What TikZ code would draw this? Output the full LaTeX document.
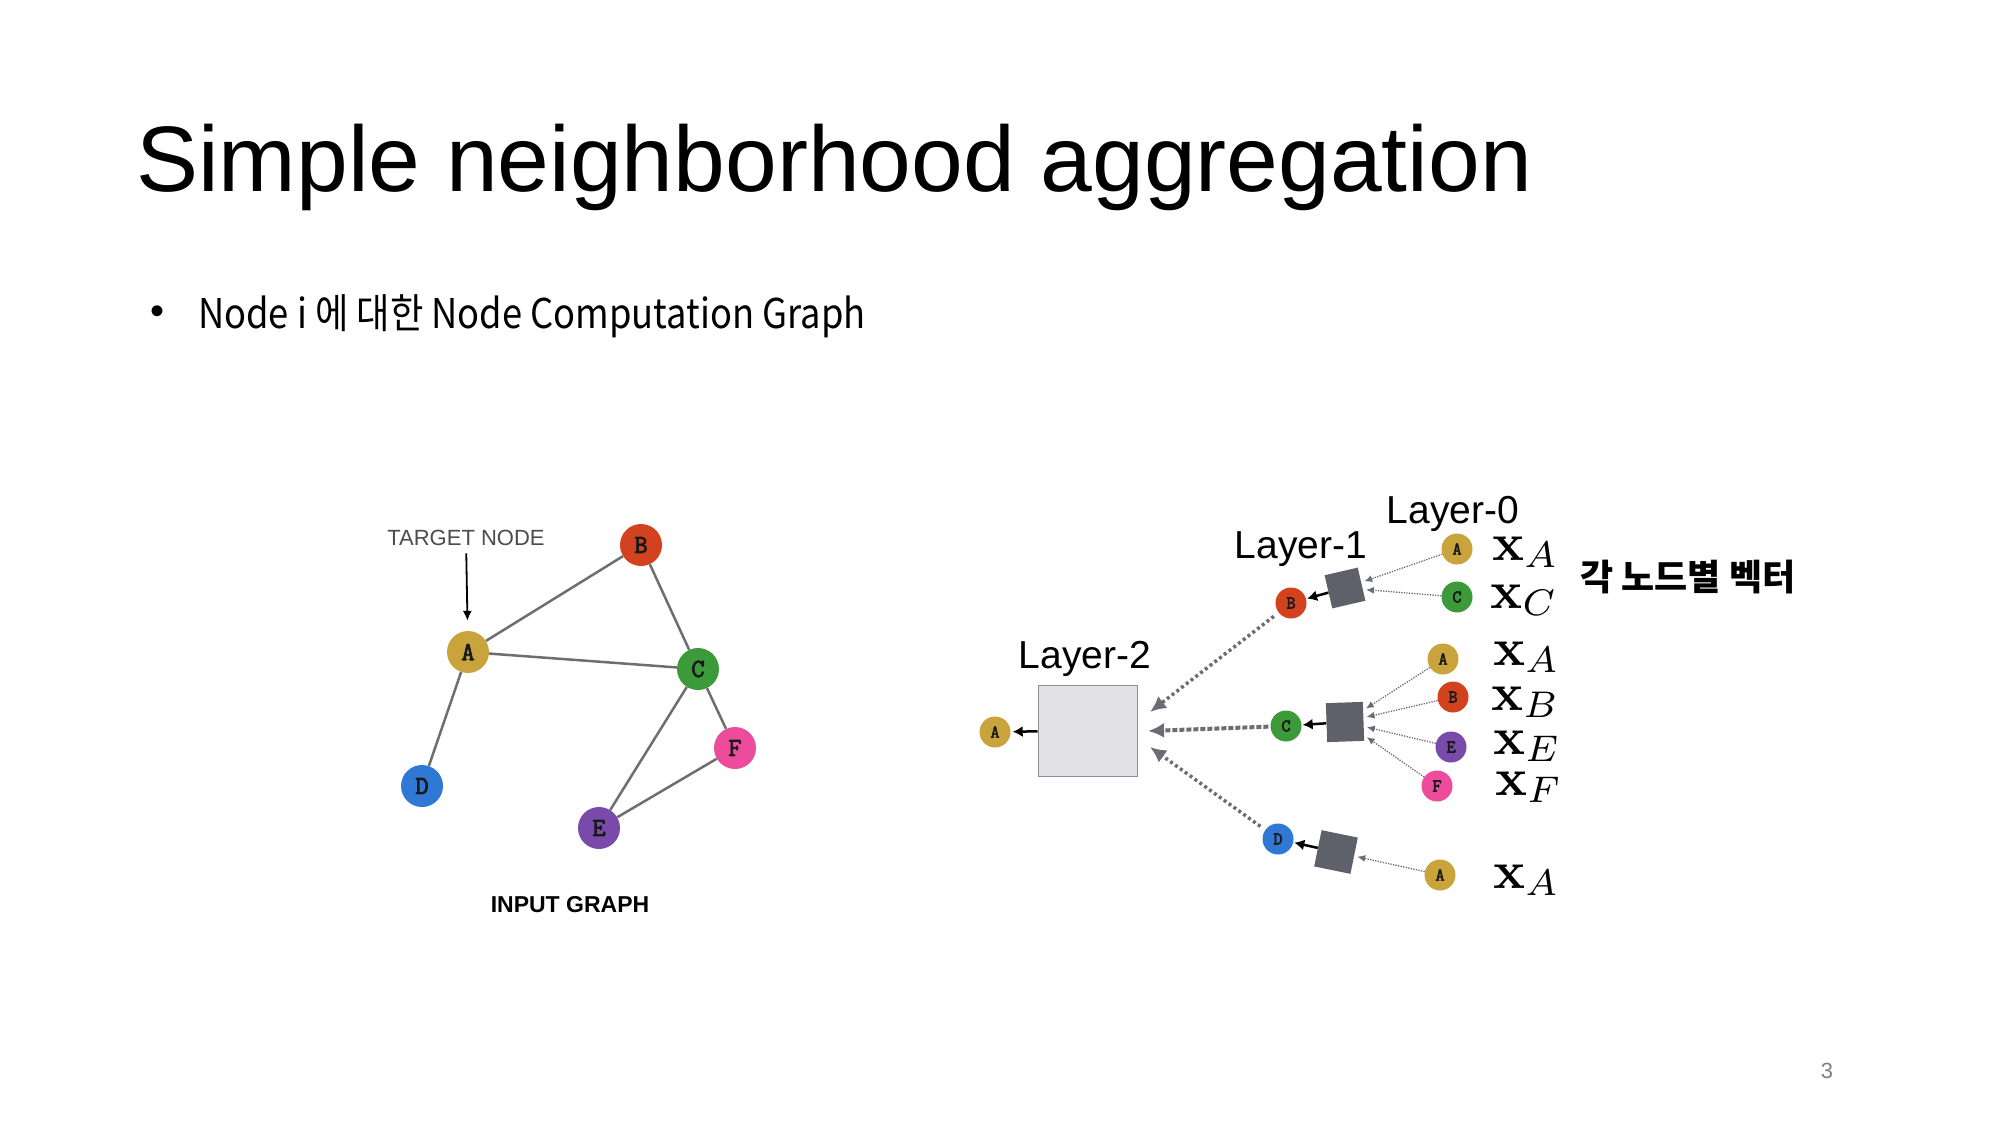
\documentclass[tikz,border=0pt]{standalone}
\usepackage[no-math]{fontspec}
\setmainfont{Liberation Sans}
\newfontfamily\kr{Noto Sans CJK KR}
\newfontfamily\monob{Latin Modern Mono}[FakeBold=3]
\usetikzlibrary{arrows.meta}
\definecolor{cA}{HTML}{C9A43C}
\definecolor{cB}{HTML}{D2421F}
\definecolor{cC}{HTML}{3D9A3A}
\definecolor{cD}{HTML}{2F78D3}
\definecolor{cE}{HTML}{7A4AAB}
\definecolor{cF}{HTML}{EC4C9B}
\definecolor{edgegray}{HTML}{6E6E6E}
\definecolor{dotgray}{HTML}{6A6D73}
\definecolor{boxgray}{HTML}{5E6169}
\definecolor{boxlight}{HTML}{E1E1E6}
\definecolor{boxedge}{HTML}{8E8E8E}
\begin{document}
\begin{tikzpicture}[x=1pt,y=-1pt,
  gnode/.style={circle,inner sep=0pt,minimum size=42pt,font=\monob\fontsize{26}{26}\selectfont,text=black!90},
  snode/.style={circle,inner sep=0pt,minimum size=31pt,font=\monob\fontsize{18}{18}\selectfont,text=black!90},
  edge/.style={draw=edgegray,line width=2.5pt},
  agg/.style={fill=boxgray,minimum size=36pt,inner sep=0pt},
  bigdot/.style={draw=dotgray,line width=3.5pt,dash pattern=on 3pt off 3pt,-{Latex[length=16pt,width=15pt]}},
  bigdash/.style={draw=dotgray,line width=4pt,dash pattern=on 5pt off 2pt,-{Latex[length=16pt,width=15pt]}},
  smalldot/.style={draw=dotgray,line width=1.3pt,dash pattern=on 1.3pt off 1.3pt,-{Latex[length=8pt,width=7pt]}},
  blackarrow/.style={draw=black,line width=2.5pt,-{Latex[length=10pt,width=11pt]}},
  layer/.style={anchor=base,inner sep=0pt,font=\fontsize{39}{39}\selectfont},
  xlab/.style={anchor=base west,inner sep=0pt},
]
\useasboundingbox[fill=white] (0,0) rectangle (2000,1125);

% title and bullet
\node[anchor=base west,inner sep=0pt] (title) at (136,191) {\fontsize{93}{93}\selectfont Simple neighborhood aggregation};
\node[inner sep=0pt,font=\fontsize{40}{40}\selectfont] (bul) at (157,315) {\textbullet};
\node[anchor=base west,inner sep=0pt] (sub) at (198,328) {\scalebox{0.885}[1]{\kr\fontsize{41}{41}\selectfont Node i 에 대한 Node Computation Graph}};
\node[text=gray,font=\fontsize{22}{22}\selectfont] (pg) at (1827,1071) {3};

% input graph
\node[gnode,fill=cA] (A) at (468,652) {A};
\node[gnode,fill=cB] (B) at (641,545) {B};
\node[gnode,fill=cC] (C) at (698,669) {C};
\node[gnode,fill=cD] (D) at (422,786) {D};
\node[gnode,fill=cE] (E) at (599,828) {E};
\node[gnode,fill=cF] (F) at (735,748) {F};
\draw[edge] (A) -- (B);
\draw[edge] (A) -- (C);
\draw[edge] (A) -- (D);
\draw[edge] (B) -- (C);
\draw[edge] (C) -- (E);
\draw[edge] (C) -- (F);
\draw[edge] (E) -- (F);
\node[text=black!70,font=\fontsize{22}{22}\selectfont] (tn) at (466,538) {TARGET NODE};
\draw[line width=1.8pt,-{Latex[length=10pt,width=9pt]},shorten <=4pt,shorten >=10pt] (tn) -- (A);
\node[font=\bfseries\fontsize{23}{23}\selectfont] (ig) at (570,905) {INPUT GRAPH};

% computation graph
\node[snode,fill=cA] (r2A) at (995,732) {A};
\node[draw=boxedge,fill=boxlight,line width=1pt,minimum width=99pt,minimum height=91pt,inner sep=0pt] (L2) at (1087.5,730.5) {};
\node[layer] (l2t) at (1085,668) {Layer-2};
\draw[blackarrow,shorten >=2pt] (L2) -- (r2A);

\node[layer] (l1t) at (1301,558) {Layer-1};
\node[layer] (l0t) at (1453,523) {Layer-0};

\node[snode,fill=cB] (r1B) at (1291,603) {B};
\node[snode,fill=cC] (r1C) at (1286,726) {C};
\node[snode,fill=cD] (r1D) at (1278,839) {D};
\node[agg,rotate=13,minimum size=34pt] (g1) at (1345,588) {};
\node[agg,minimum width=37pt,minimum height=39pt,rotate=2] (g2) at (1345,722) {};
\node[agg,rotate=-11.5,minimum size=37pt] (g3) at (1336,852) {};
\draw[blackarrow,shorten >=1pt] (g1) -- (r1B);
\draw[blackarrow,shorten >=1pt] (g2) -- (r1C);
\draw[blackarrow,shorten >=1pt] (g3) -- (r1D);

\coordinate (t1) at (1150,712);
\coordinate (t2) at (1148,731);
\coordinate (t3) at (1150,747);
\draw[bigdot,shorten <=6pt] (r1B) -- (t1);
\draw[bigdash,shorten <=2pt] (r1C) -- (t2);
\draw[bigdot,shorten <=6pt] (r1D) -- (t3);

\node[snode,fill=cA] (a0) at (1457,549) {A};
\node[snode,fill=cC] (c0) at (1457,597) {C};
\node[snode,fill=cA] (a1) at (1443,659) {A};
\node[snode,fill=cB] (b1) at (1453,697) {B};
\node[snode,fill=cE] (e1) at (1451,747) {E};
\node[snode,fill=cF] (f1) at (1437,786) {F};
\node[snode,fill=cA] (a2) at (1440,875) {A};
\draw[smalldot,shorten >=3pt] (a0) -- (g1);
\draw[smalldot,shorten >=3pt] (c0) -- (g1);
\draw[smalldot,shorten >=3pt] (a1) -- (g2);
\draw[smalldot,shorten >=3pt] (b1) -- (g2);
\draw[smalldot,shorten >=3pt] (e1) -- (g2);
\draw[smalldot,shorten >=3pt] (f1) -- (g2);
\draw[smalldot,shorten >=3pt] (a2) -- (g3);

\node[xlab] (x1) at (1492,560) {\scalebox{5.3}{$\mathbf{x}_A$}};
\node[xlab] (x2) at (1490,608) {\scalebox{5.3}{$\mathbf{x}_C$}};
\node[xlab] (x3) at (1493,665) {\scalebox{5.3}{$\mathbf{x}_A$}};
\node[xlab] (x4) at (1491,710) {\scalebox{5.3}{$\mathbf{x}_B$}};
\node[xlab] (x5) at (1493,754) {\scalebox{5.3}{$\mathbf{x}_E$}};
\node[xlab] (x6) at (1495,795) {\scalebox{5.3}{$\mathbf{x}_F$}};
\node[xlab] (x7) at (1493,888) {\scalebox{5.3}{$\mathbf{x}_A$}};

\node[anchor=west,inner sep=0pt,font=\kr\bfseries\fontsize{36}{36}\selectfont] (kv) at (1580,577) {각 노드별 벡터};
\end{tikzpicture}
\end{document}
